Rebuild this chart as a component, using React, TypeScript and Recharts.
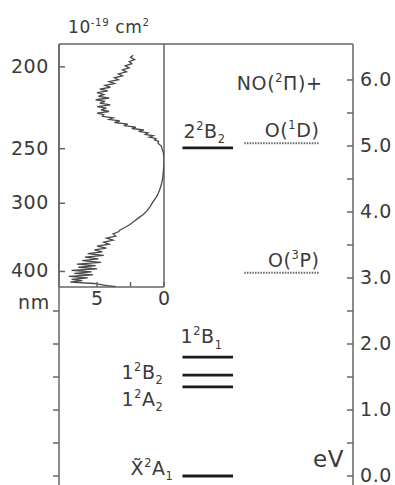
import React from 'react'
import { ComposedChart, ScatterChart, Scatter, XAxis, YAxis } from 'recharts'

const FONT = '"DejaVu Sans", sans-serif'
const INK = '#3a3a3a'
const AXIS = '#666'
const FS = 19

// inset: absorption cross-section (10^-19 cm^2) against wavelength (nm)
const waveNm = [
  194.5, 195.5, 196.5, 197.5, 198.5, 199.5, 200.5, 201.5, 202.5, 203.5, 204.5, 205.5, 206.5, 207.5,
  208.5, 209.5, 210.5, 211.5, 212.5, 213.5, 214.5, 215.5, 216.5, 217.5, 218.5, 219.5, 220.5, 221.5,
  222.5, 223.5, 224.5, 225.5, 226.5, 227.5, 228.5, 229.5, 230.5, 231.5, 232.5, 233.5, 234.5, 235.5,
  236.5, 237.5, 238.5, 239.5, 240.5, 241.5, 242.5, 243.5, 244.5, 246, 248, 250, 253, 257, 262, 269,
  275, 281, 287, 293, 298, 304, 309, 313, 317, 321, 326, 330, 333, 335, 338, 341, 344, 347, 350, 353,
  356, 359, 362, 365, 368, 371, 374, 377, 380, 383, 386, 389, 392, 395, 398, 401, 404, 407, 410, 413,
  416, 419, 422, 425, 428, 430, 432,
]
const crossSection = [
  2.3, 2.5, 2.2, 2.6, 2.4, 2.9, 2.6, 3.1, 2.8, 3.4, 3.1, 3.7, 3.4, 4.1,
  3.7, 4.4, 4.0, 4.8, 4.2, 5.0, 4.5, 4.9, 4.1, 5.1, 4.4, 4.8, 4.0, 5.0,
  4.3, 4.7, 4.1, 5.0, 4.5, 4.6, 3.8, 4.1, 3.3, 3.7, 2.7, 3.0, 2.1, 2.4,
  1.5, 1.9, 1.2, 1.4, 0.8, 1.1, 0.6, 0.7, 0.4, 0.45, 0.2, 0.15, 0.05, 0.0, 0.0, 0.05,
  0.1, 0.2, 0.35, 0.55, 0.8, 1.05, 1.3, 1.55, 1.9, 2.2, 2.6, 3.0, 3.3, 3.4, 3.8, 3.6, 4.3, 3.8, 4.5, 4.1,
  5.0, 4.3, 5.2, 4.6, 5.7, 4.5, 5.9, 4.9, 6.1, 4.7, 6.5, 5.1, 6.4, 5.0, 6.9, 5.4, 6.7, 5.3, 7.1, 5.7,
  6.9, 6.1, 7.0, 5.2, 4.6, 4.2, 3.6,
]
const nmTicks = [200, 250, 300, 400]
const sigmaTicks = [0, 2.5, 5]

// energy diagram (eV)
const evTicks = [0, 0.5, 1, 1.5, 2, 2.5, 3, 3.5, 4, 4.5, 5, 5.5, 6]
const leftEvTicks = [0, 0.5, 1, 1.5, 2, 2.5]
const stateNames = ['X\u0303^2A_1', '1^2A_2', '1^2B_2', '1^2B_1', '2^2B_2']
const stateEnergy = [0, 1.35, 1.53, 1.8, 4.97]
const limitNames = ['O(^1D)', 'O(^3P)']
const limitEnergy = [5.04, 3.08]
const limitHeader = 'NO(^2Π)+'

const EV_MAX = 6.545
const EV_MIN = -0.136
const INSET_EV_MIN = 2.864
const SIG_MAX = 7.84
const HC = 1239.84

const spectrum = waveNm.map((nm, i) => ({ ev: HC / nm, sigma: crossSection[i] }))

// horizontal extent of the level bars in diagram units (0..100)
const STATE_X = [42, 59.2]
const LIMIT_X = [63, 88.6]

// label placement relative to the level bar start (states) or end (limits)
const stateLabelPos = [
  { anchor: 'end', dx: -9, dy: -1 },
  { anchor: 'end', dx: -19, dy: 19 },
  { anchor: 'end', dx: -19, dy: 4 },
  { anchor: 'start', dx: -2, dy: -14 },
  { anchor: 'start', dx: 1, dy: -10 },
]

type Part = { t: string; k: number }
function parse(s: string): Part[] {
  const out: Part[] = []
  const re = /\^\{([^}]*)\}|\^(.)|_\{([^}]*)\}|_(.)|([^^_]+)/gu
  let m
  while ((m = re.exec(s))) {
    if (m[1] != null || m[2] != null) out.push({ t: m[1] ?? m[2], k: 1 })
    else if (m[3] != null || m[4] != null) out.push({ t: m[3] ?? m[4], k: -1 })
    else out.push({ t: m[5], k: 0 })
  }
  return out
}

function Rich({ x, y, text, anchor = 'start', size = FS }: any) {
  let shift = 0
  return (
    <text x={x} y={y} textAnchor={anchor} fontSize={size} fontFamily={FONT} fill={INK} letterSpacing={0.6}>
      {parse(text).map((p, i) => {
        const target = p.k === 1 ? -size * 0.42 : p.k === -1 ? size * 0.28 : 0
        const dy = target - shift
        shift = target
        return (
          <tspan key={i} dy={dy} fontSize={p.k ? size * 0.6 : size}>
            {p.t}
          </tspan>
        )
      })}
    </text>
  )
}

const LeftTick = ({ x, y }: any) => <line x1={x - 6} x2={x} y1={y} y2={y} stroke={AXIS} strokeWidth={1.5} />

const RightTick = ({ x, y, payload }: any) => (
  <g>
    <line x1={x - 6} x2={x} y1={y} y2={y} stroke={AXIS} strokeWidth={1.5} />
    {Number.isInteger(payload.value) && (
      <text x={x + 7} y={y + 6} fontSize={FS} fontFamily={FONT} fill={INK} letterSpacing={0.6}>
        {payload.value.toFixed(1)}
      </text>
    )}
  </g>
)

const NmTick = ({ x, y, payload }: any) => (
  <g>
    <line x1={x} x2={x + 6} y1={y} y2={y} stroke={AXIS} strokeWidth={1.5} />
    <text x={x - 10} y={y + 6} textAnchor="end" fontSize={FS} fontFamily={FONT} fill={INK} letterSpacing={0.6}>
      {Math.round(HC / payload.value)}
    </text>
  </g>
)

const SigmaTick = ({ x, y, payload }: any) => (
  <g>
    <line x1={x} x2={x} y1={y} y2={y - 5} stroke={AXIS} strokeWidth={1.5} />
    {Number.isInteger(payload.value) && (
      <text x={x} y={y + 18} textAnchor="middle" fontSize={FS} fontFamily={FONT} fill={INK}>
        {payload.value}
      </text>
    )}
  </g>
)

// label drawn at the first point of each bar
const barLabel = (p: any) => {
  const d = p.payload
  if (!d.label) return <g />
  const pos = d.pos
  return (
    <g>
      <Rich x={p.cx + pos.dx} y={p.cy + pos.dy} anchor={pos.anchor} text={d.label} />
      {d.header && <Rich x={p.cx + 3} y={p.cy - 53} anchor="end" text={d.header} />}
    </g>
  )
}

export default function App() {
  const axisLine = { stroke: AXIS, strokeWidth: 1.5 }
  const stateBars = stateEnergy.map((e, i) => [
    { x: STATE_X[0], y: e, label: stateNames[i], pos: stateLabelPos[i] },
    { x: STATE_X[1], y: e },
  ])
  const limitBars = limitEnergy.map((e, i) => [
    { x: LIMIT_X[0], y: e },
    {
      x: LIMIT_X[1],
      y: e,
      label: limitNames[i],
      pos: { anchor: 'end', dx: 0, dy: -6 },
      header: i === 0 ? limitHeader : undefined,
    },
  ])
  return (
    <div style={{ position: 'absolute', left: 0, top: 0, width: 395, height: 485, background: '#fff' }}>
      <div style={{ position: 'absolute', left: 0, top: 0 }}>
        <ComposedChart width={395} height={485} margin={{ top: 43, right: 0, bottom: 0, left: 0 }}>
          <XAxis
            xAxisId="x"
            orientation="top"
            type="number"
            dataKey="x"
            domain={[0, 100]}
            height={1}
            tick={false}
            tickLine={false}
            axisLine={axisLine}
            allowDataOverflow
          />
          <YAxis
            yAxisId="ev"
            type="number"
            dataKey="y"
            domain={[EV_MIN, EV_MAX]}
            ticks={leftEvTicks}
            interval={0}
            width={59}
            tick={<LeftTick />}
            tickLine={false}
            tickSize={0}
            tickMargin={0}
            axisLine={axisLine}
            allowDataOverflow
          />
          <YAxis
            yAxisId="evR"
            orientation="right"
            type="number"
            domain={[EV_MIN, EV_MAX]}
            ticks={evTicks}
            interval={0}
            width={42}
            tick={<RightTick />}
            tickLine={false}
            tickSize={0}
            tickMargin={0}
            axisLine={axisLine}
            allowDataOverflow
          />
          {stateBars.map((bar, i) => (
            <Scatter
              key={stateNames[i]}
              xAxisId="x"
              yAxisId="ev"
              data={bar}
              line={{ stroke: '#1c1c1c', strokeWidth: 2.8 }}
              shape={barLabel}
              isAnimationActive={false}
            />
          ))}
          {limitBars.map((bar, i) => (
            <Scatter
              key={limitNames[i]}
              xAxisId="x"
              yAxisId="ev"
              data={bar}
              line={{ stroke: '#666', strokeWidth: 2, strokeDasharray: '1.5 1.2' }}
              shape={barLabel}
              isAnimationActive={false}
            />
          ))}
        </ComposedChart>
      </div>
      <div style={{ position: 'absolute', left: 0, top: 0 }}>
        <ScatterChart width={175} height={320} margin={{ top: 44, right: 0, bottom: 0, left: 0 }}>
          <XAxis
            type="number"
            dataKey="sigma"
            domain={[0, SIG_MAX]}
            reversed
            ticks={sigmaTicks}
            interval={0}
            height={33}
            tick={<SigmaTick />}
            tickLine={false}
            tickSize={0}
            tickMargin={0}
            axisLine={axisLine}
            allowDataOverflow
          />
          <YAxis
            yAxisId="nm"
            type="number"
            dataKey="ev"
            domain={[INSET_EV_MIN, EV_MAX]}
            ticks={nmTicks.map((n) => HC / n)}
            interval={0}
            width={59}
            tick={<NmTick />}
            tickLine={false}
            tickSize={0}
            tickMargin={0}
            axisLine={axisLine}
            allowDataOverflow
          />
          <YAxis
            yAxisId="frame"
            orientation="right"
            type="number"
            domain={[INSET_EV_MIN, EV_MAX]}
            width={11}
            tick={false}
            tickLine={false}
            axisLine={axisLine}
          />
          <Scatter
            yAxisId="nm"
            data={spectrum}
            line={{ stroke: '#4a4a4a', strokeWidth: 1.3 }}
            shape={() => <g />}
            isAnimationActive={false}
          />
        </ScatterChart>
      </div>
      <svg width={395} height={485} style={{ position: 'absolute', left: 0, top: 0, pointerEvents: 'none' }}>
        <Rich x={68} y={33} text="10^{-19} cm^2" size={17} />
        <Rich x={18} y={309} text="nm" />
        <Rich x={344} y={467} text="eV" anchor="end" size={23} />
      </svg>
    </div>
  )
}
